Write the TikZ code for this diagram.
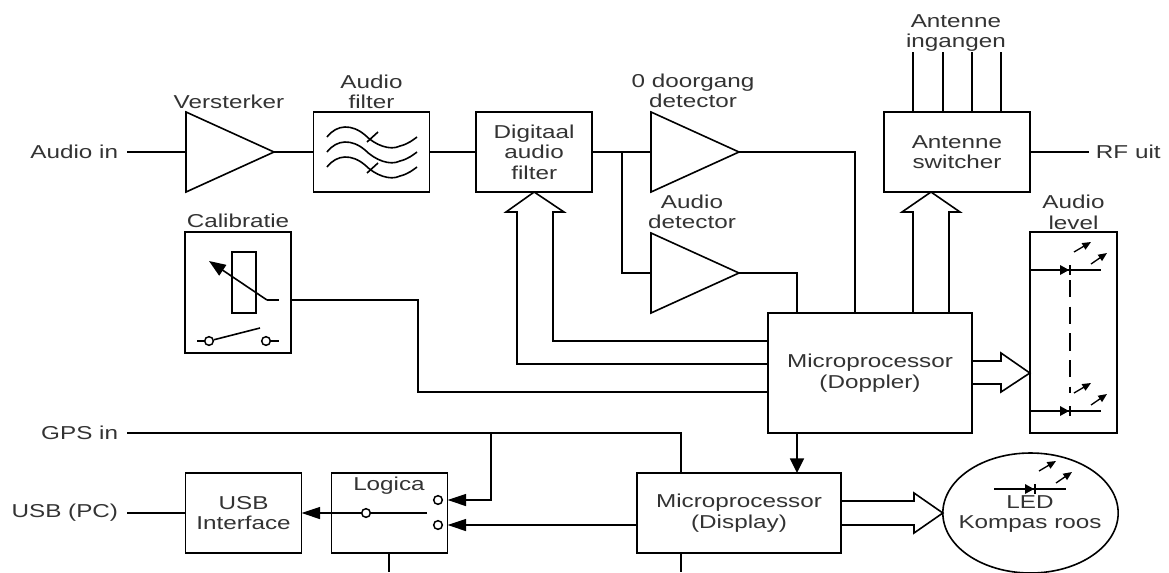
\documentclass[tikz,border=0pt]{standalone}
\usepackage{fontspec}
\setmainfont[FakeStretch=1.3]{Liberation Sans}
\usetikzlibrary{arrows.meta,positioning,shapes.geometric}
\definecolor{txtgray}{HTML}{333333}
\tikzset{
  block/.style={draw, line width=1.2pt, fill=white, align=center, inner sep=0pt, outer sep=0pt, minimum width=87pt, minimum height=60pt, text=txtgray, font=\fontsize{14}{15.4}\selectfont},
  cpu/.style={block, minimum width=153pt},
  amp/.style={draw, line width=1.2pt, isosceles triangle, isosceles triangle stretches, shape border rotate=0, inner sep=0pt, outer sep=0pt, minimum width=60pt, minimum height=66pt, anchor=lower side},
  lbl/.style={align=center, inner sep=0pt, text=txtgray, font=\fontsize{14}{15.4}\selectfont},
  iolbl/.style={lbl, inner xsep=6.5pt},
  wire/.style={line width=1.2pt},
  thinwire/.style={line width=1pt},
  arrow/.style={wire, -{Triangle[length=14pt, width=9pt]}},
  tinyarrow/.style={line width=1pt, -{Triangle[length=6.5pt, width=5.5pt]}},
  contact/.style={circle, draw, line width=1.1pt, fill=white, inner sep=0pt, minimum size=6.5pt}
}
\begin{document}
\begin{tikzpicture}[x=0.75pt, y=-0.75pt, node distance=35pt]
  \useasboundingbox (0,0) rectangle (1169,572);

  % top row
  \node[iolbl, anchor=east] (audioin) at (127,152) {Audio in};
  \node[amp] (versterker) at (186,152) {};
  \node[block] (audiofilter) at (371.5,152) {};
  \node[block, right=35pt of audiofilter] (digitaal) {Digitaal\\audio\\filter};
  \node[amp] (nuldet) at (651,152) {};
  \node[amp] (audiodet) at (651,273) {};
  \node[block, minimum width=109.5pt] (switcher) at (957,152) {Antenne\\switcher};
  \node[iolbl, anchor=west, inner xsep=5pt] (rfuit) at (1089,152) {RF uit};

  \node[lbl] (lblversterker) at (229,102) {Versterker};
  \node[lbl, above=2pt of audiofilter] (lblfilter) {Audio\\filter};
  \node[lbl] (lblnuldet) at (693,91) {0 doorgang\\detector};
  \node[lbl] (lblaudiodet) at (692,212) {Audio\\detector};
  \node[lbl] (lblingangen) at (956,33) {Antenne\\ingangen};

  % left and right of the middle row
  \node[block, minimum width=79.5pt, minimum height=90.5pt] (calibratie) at (238,292.5) {};
  \node[lbl, above=3.5pt of calibratie] (lblcalibratie) {Calibratie};
  \node[block, minimum width=153pt, minimum height=90pt] (doppler) at (870,373) {Microprocessor\\(Doppler)};
  \node[block, minimum width=65.5pt, minimum height=150.5pt] (level) at (1073.5,332.5) {};
  \node[lbl, above=2pt of level] (lbllevel) {Audio\\level};

  % bottom row
  \node[iolbl, anchor=east] (gpsin) at (127,433) {GPS in};
  \node[iolbl, anchor=east] (usbpc) at (127,513) {USB (PC)};
  \node[block] (usb) at (243.5,513) {USB\\Interface};
  \node[block] (logica) at (389.5,513) {};
  \node[lbl] (lbllogica) at (389,486) {Logica};
  \node[cpu] (display) at (739,513) {Microprocessor\\(Display)};
  \node[ellipse, draw, line width=1.2pt, inner sep=0pt, outer sep=0pt, minimum width=131.5pt, minimum height=90pt] (kompas) at (1030.5,513) {};
  \node[lbl] (lblkompas) at (1030,514) {LED\\Kompas roos};

  % signal path
  \draw[wire] (audioin.east) -- (versterker.lower side);
  \draw[wire] (versterker.apex) -- (audiofilter.west);
  \draw[wire] (audiofilter.east) -- (digitaal.west);
  \draw[wire] (digitaal.east) -- (nuldet.lower side);
  \coordinate (tap) at (622,152);
  \draw[wire] (tap) |- (audiodet.lower side);
  \draw[wire] (nuldet.apex) -| (doppler.north -| 855,0);
  \draw[wire] (audiodet.apex) -| (doppler.north -| 797,0);
  \draw[thinwire] (switcher.east) -- (rfuit.west);
  \foreach \xx in {913,943,972,1001} {
    \coordinate (ant\xx) at (\xx,52);
    \draw[wire] (ant\xx) -- (ant\xx |- switcher.north);
  }

  % filter symbol
  \foreach \dy in {0,15,30} {
    \draw[wire, yshift=-\dy*0.75pt] (327,137) .. controls (337,124) and (352,124) .. (365,135)
      .. controls (375,145) and (390,151) .. (400,146) .. controls (408,144) and (413,140) .. (417,137);
  }
  \draw[wire] (367,142) -- (378,132);
  \draw[wire] (367,173) -- (378,163);

  % wide busses
  \draw[wire] (doppler.west |- 0,341) -- (553,341) -- (553,212) -- (564,212) -- (digitaal.south)
    -- (506,212) -- (517,212) -- (517,364) -- (doppler.west |- 0,364);
  \draw[wire] (doppler.north -| 913,0) -- (913,212) -- (902,212) -- (switcher.south -| 931,0)
    -- (960,212) -- (949,212) -- (doppler.north -| 949,0);
  \draw[wire] (doppler.east |- 0,361) -- (1001,361) -- (1001,353) -- (level.west |- 0,373)
    -- (1001,392) -- (1001,384) -- (doppler.east |- 0,384);
  \draw[wire] (display.east |- 0,501) -- (914,501) -- (914,493) -- (kompas.west)
    -- (914,533) -- (914,525) -- (display.east |- 0,525);

  % calibratie symbol
  \draw[thinwire] (232,252) rectangle (256,313);
  \draw[wire, -{Triangle[length=12.5pt, width=9.5pt]}] (267,300) -- (209,261);
  \draw[wire] (267,300) -- (279,300);
  \node[contact] (calibL) at (209,341) {};
  \node[contact] (calibR) at (266,341) {};
  \draw[wire] (197,341) -- (calibL);
  \draw[wire] (calibL) -- (260,328);
  \draw[wire] (calibR) -- (279,341);
  \draw[wire] (calibratie.east |- 0,300) -- (418,300) |- (doppler.west |- 0,392);

  % audio level leds
  \foreach \yy in {270,411} {
    \draw[thinwire] (level.west |- 0,\yy) -- (1101,\yy);
    \fill (1060,\yy-5) -- (1060,\yy+5) -- (1069,\yy) -- cycle;
    \draw[thinwire] (1070,\yy-5) -- (1070,\yy+5);
    \draw[tinyarrow] (1074,\yy-18) -- (1091,\yy-28);
    \draw[tinyarrow] (1091,\yy-6) -- (1107,\yy-17);
  }
  \draw[wire, line width=1.5pt, dash pattern=on 13pt off 7pt] (1070,280) -- (1070,393);

  % kompas led
  \draw[thinwire] (994,489) -- (1066,489);
  \fill (1025,484) -- (1025,494) -- (1034,489) -- cycle;
  \draw[thinwire] (1035,484) -- (1035,494);
  \draw[tinyarrow] (1039,471) -- (1056,461);
  \draw[tinyarrow] (1056,483) -- (1072,472);

  % bottom connections
  \draw[wire] (usbpc.east) -- (usb.west);
  \node[contact] (pole) at (366,513) {};
  \node[contact] (contactA) at (438,500) {};
  \node[contact] (contactB) at (438,525) {};
  \coordinate (poleend) at (427,513);
  \draw[thinwire] (poleend) -- (pole);
  \draw[arrow] (pole) -- (usb.east);
  \draw[wire] (gpsin.east) -| (display.north -| 681,0);
  \coordinate (gpstap) at (491,433);
  \draw[arrow] (gpstap) |- (logica.east |- contactA);
  \draw[arrow] (display.west |- contactB) -- (logica.east |- contactB);
  \draw[wire, -{Triangle[length=11pt, width=10.5pt]}] (doppler.south -| 797,0) -- (display.north -| 797,0);
  \coordinate (logicaout) at (389,572);
  \coordinate (displayout) at (681,572);
  \draw[wire] (logica.south -| logicaout) -- (logicaout);
  \draw[wire] (display.south -| displayout) -- (displayout);
\end{tikzpicture}
\end{document}
